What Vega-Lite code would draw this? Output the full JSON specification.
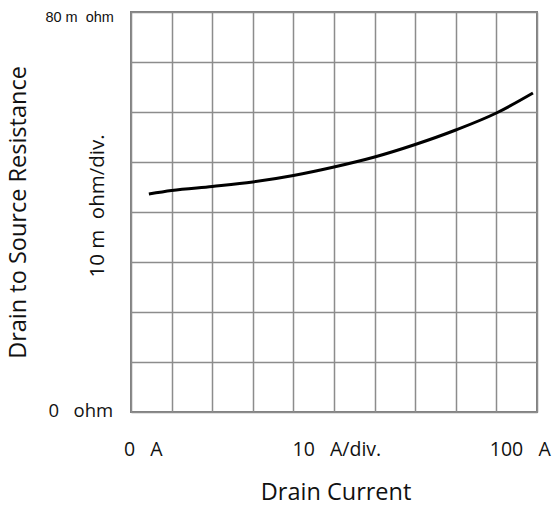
{
  "$schema": "https://vega.github.io/schema/vega-lite/v6.json",
  "width": 406,
  "height": 400,
  "autosize": "none",
  "padding": {"left": 131, "top": 12, "right": 18, "bottom": 97},
  "background": "white",
  "config": {"view": {"stroke": "#808080", "strokeWidth": 2}},
  "datasets": {
    "curve": [
      {"i": 4.4, "r": 43.6},
      {"i": 10, "r": 44.3},
      {"i": 20, "r": 45.1},
      {"i": 30, "r": 46.0},
      {"i": 40, "r": 47.3},
      {"i": 50, "r": 49.0},
      {"i": 60, "r": 51.0},
      {"i": 70, "r": 53.5},
      {"i": 80, "r": 56.4},
      {"i": 90, "r": 59.8},
      {"i": 99, "r": 63.8}
    ],
    "top": [{"x": -4.2, "y": 78.9, "t": "80 m\u00a0 ohm"}],
    "zero": [{"x": -4.4, "y": 0.2, "t": "0\u00a0\u00a0 ohm"}],
    "xl0": [{"x": -1.72, "y": -7.6, "t": "0\u00a0\u00a0 A"}],
    "xl1": [{"x": 50.7, "y": -7.6, "t": "10\u00a0\u00a0 A/div."}],
    "xl2": [{"x": 103.4, "y": -7.6, "t": "100\u00a0\u00a0 A"}],
    "xt": [{"x": 50.5, "y": -16.2, "t": "Drain Current"}],
    "yt": [{"x": -27.6, "y": 39.9, "t": "Drain to Source Resistance"}],
    "yd": [{"x": -8.1, "y": 41.2, "t": "10 m\u00a0 ohm/div."}]
  },
  "encoding": {
    "x": {"type": "quantitative", "scale": {"domain": [0, 100], "nice": false}},
    "y": {"type": "quantitative", "scale": {"domain": [0, 80], "nice": false}}
  },
  "layer": [
    {
      "data": {"name": "curve"},
      "mark": {"type": "line", "color": "black", "strokeWidth": 3, "interpolate": "monotone"},
      "encoding": {
        "x": {"field": "i", "type": "quantitative",
          "axis": {"values": [0,10,20,30,40,50,60,70,80,90,100], "grid": true, "gridColor": "#8c8c8c", "gridWidth": 1.5, "gridOpacity": 1, "labels": false, "ticks": false, "domain": false, "title": null}},
        "y": {"field": "r", "type": "quantitative",
          "axis": {"values": [0,10,20,30,40,50,60,70,80], "grid": true, "gridColor": "#8c8c8c", "gridWidth": 1.5, "gridOpacity": 1, "labels": false, "ticks": false, "domain": false, "title": null}}
      }
    },
    {
      "data": {"name": "top"},
      "mark": {"type": "text", "clip": false, "color": "#111", "font": "Liberation Sans", "fontSize": 14.5, "align": "right", "baseline": "middle"},
      "encoding": {"x": {"field": "x", "type": "quantitative"}, "y": {"field": "y", "type": "quantitative"}, "text": {"field": "t"}}
    },
    {
      "data": {"name": "zero"},
      "mark": {"type": "text", "clip": false, "color": "#111", "font": "Open Sans", "fontSize": 18.5, "align": "right", "baseline": "middle"},
      "encoding": {"x": {"field": "x", "type": "quantitative"}, "y": {"field": "y", "type": "quantitative"}, "text": {"field": "t"}}
    },
    {
      "data": {"name": "xl0"},
      "mark": {"type": "text", "clip": false, "color": "#111", "font": "Open Sans", "fontSize": 19.5, "align": "left", "baseline": "middle"},
      "encoding": {"x": {"field": "x", "type": "quantitative"}, "y": {"field": "y", "type": "quantitative"}, "text": {"field": "t"}}
    },
    {
      "data": {"name": "xl1"},
      "mark": {"type": "text", "clip": false, "color": "#111", "font": "Open Sans", "fontSize": 19.5, "align": "center", "baseline": "middle"},
      "encoding": {"x": {"field": "x", "type": "quantitative"}, "y": {"field": "y", "type": "quantitative"}, "text": {"field": "t"}}
    },
    {
      "data": {"name": "xl2"},
      "mark": {"type": "text", "clip": false, "color": "#111", "font": "Open Sans", "fontSize": 19.5, "align": "right", "baseline": "middle"},
      "encoding": {"x": {"field": "x", "type": "quantitative"}, "y": {"field": "y", "type": "quantitative"}, "text": {"field": "t"}}
    },
    {
      "data": {"name": "xt"},
      "mark": {"type": "text", "clip": false, "color": "#111", "font": "Open Sans", "fontSize": 23.5, "align": "center", "baseline": "middle"},
      "encoding": {"x": {"field": "x", "type": "quantitative"}, "y": {"field": "y", "type": "quantitative"}, "text": {"field": "t"}}
    },
    {
      "data": {"name": "yt"},
      "mark": {"type": "text", "clip": false, "color": "#111", "font": "Open Sans", "fontSize": 23.5, "align": "center", "baseline": "middle", "angle": 270},
      "encoding": {"x": {"field": "x", "type": "quantitative"}, "y": {"field": "y", "type": "quantitative"}, "text": {"field": "t"}}
    },
    {
      "data": {"name": "yd"},
      "mark": {"type": "text", "clip": false, "color": "#111", "font": "Open Sans", "fontSize": 20.5, "align": "center", "baseline": "middle", "angle": 270},
      "encoding": {"x": {"field": "x", "type": "quantitative"}, "y": {"field": "y", "type": "quantitative"}, "text": {"field": "t"}}
    }
  ]
}
